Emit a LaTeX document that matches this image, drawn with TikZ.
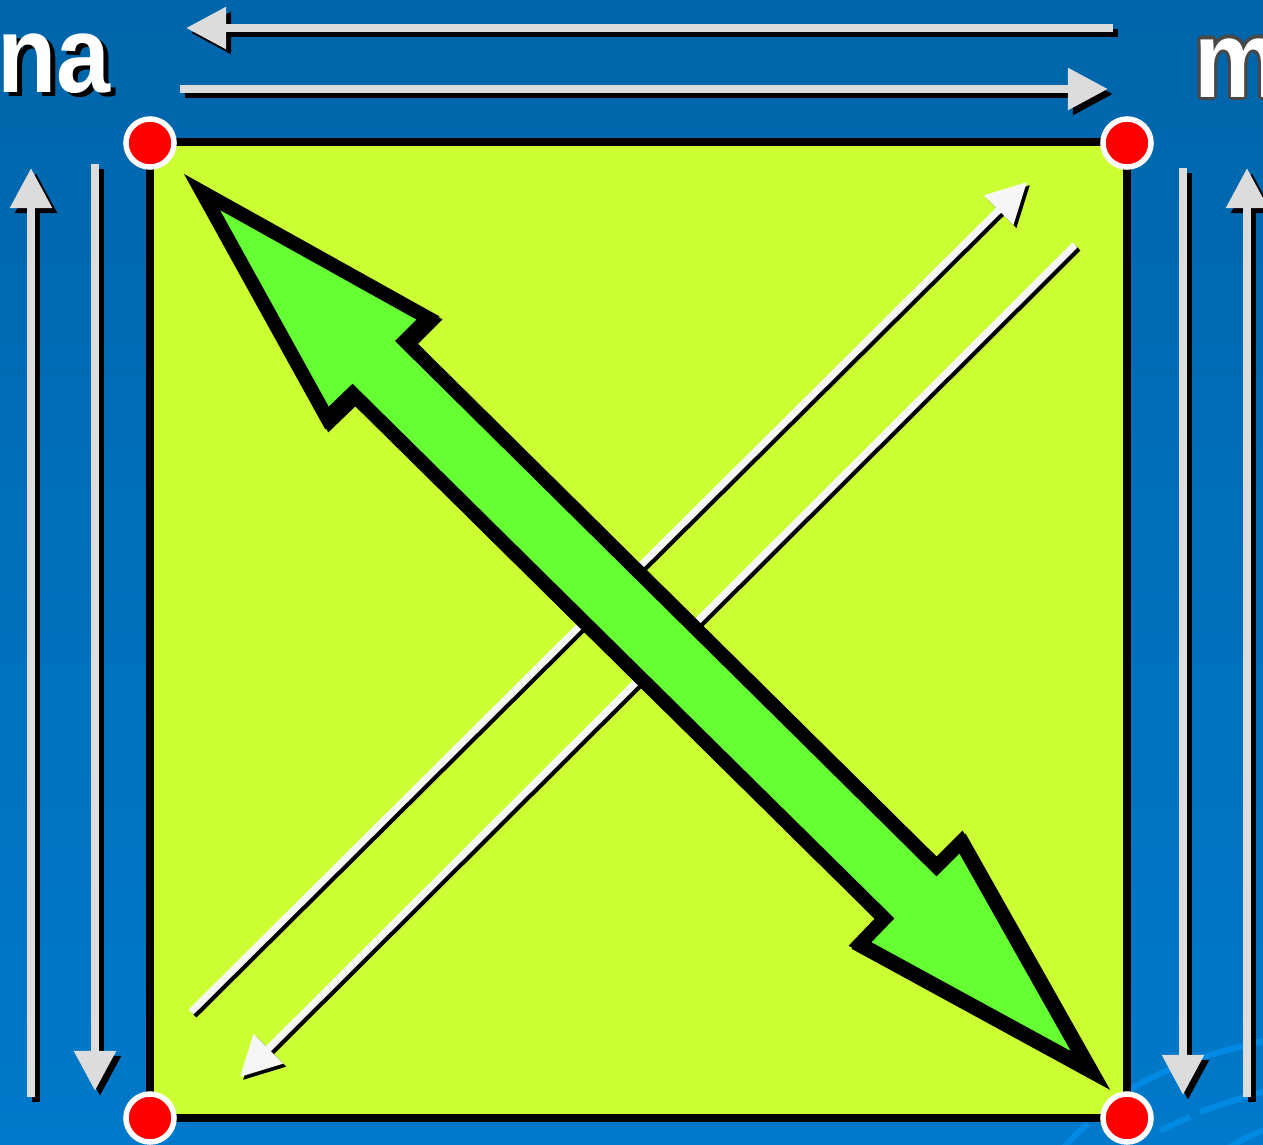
\documentclass[tikz,border=0pt]{standalone}
\usepackage{fontspec}
\setmainfont{Liberation Sans}
\usetikzlibrary{arrows.meta}
\definecolor{bgtop}{RGB}{0,101,170}
\definecolor{bgbot}{RGB}{0,121,202}
\definecolor{arcblue}{RGB}{0,138,228}
\definecolor{sqfill}{RGB}{204,255,51}
\definecolor{grfill}{RGB}{102,255,51}
\definecolor{garrow}{RGB}{220,220,220}
\definecolor{warrow}{RGB}{246,246,246}
\definecolor{mgray}{RGB}{72,72,72}
\definecolor{dotred}{RGB}{255,0,0}
\tikzset{
  grayline/.style={draw=garrow, line width=0.85mm, -{Triangle[length=4mm,width=4mm]}},
  grayshadow/.style={draw=black, line width=0.85mm, -{Triangle[length=4mm,width=4mm]}},
  whiteline/.style={draw=warrow, line width=0.7mm, -{Triangle[length=4mm,width=4mm]}},
  whiteshadow/.style={draw=black, line width=0.7mm, -{Triangle[length=4mm,width=4mm]}},
  bigtext/.style={font=\fontsize{31}{36}\selectfont\bfseries, inner sep=0, anchor=base west},
  cornerdot/.style={circle, fill=dotred, draw=white, line width=0.55mm, minimum size=4.8mm, inner sep=0},
  decoarc/.style={draw=arcblue, line width=0.6mm},
  bigarrow/.style={line width=1.4mm, line join=miter},
}
\newcommand\narrowtxt[1]{\scalebox{0.89}[1]{#1}}
\begin{document}
\begin{tikzpicture}[x=0.01cm, y=-0.01cm]
\useasboundingbox (0,0) rectangle (1263,1145);
% background
\shade[top color=bgtop, bottom color=bgbot] (0,0) rectangle (1263,1145);
% decorative arcs lower right
\draw[decoarc] (1122,1094) .. controls (1160,1070) and (1210,1052) .. (1270,1040);
\draw[decoarc] (1160,1131) .. controls (1170,1126) and (1180,1121) .. (1190,1117);
\draw[decoarc] (1200,1112) .. controls (1225,1103) and (1245,1096) .. (1270,1090);
\draw[decoarc] (1062,1150) .. controls (1070,1140) and (1078,1132) .. (1088,1124);
\draw[decoarc] (1225,1150) .. controls (1240,1140) and (1255,1133) .. (1270,1128);
% gray frame arrows
\coordinate (t1s) at (1113,28);  \coordinate (t1e) at (186,28);
\coordinate (t2s) at (180,89);   \coordinate (t2e) at (1108,89);
\coordinate (l1s) at (31,1097);  \coordinate (l1e) at (31,168);
\coordinate (l2s) at (95,164);   \coordinate (l2e) at (95,1091);
\coordinate (r1s) at (1183,168); \coordinate (r1e) at (1183,1095);
\coordinate (r2s) at (1247,1097);\coordinate (r2e) at (1247,168);
\foreach \s/\e in {t1s/t1e, t2s/t2e, l1s/l1e, l2s/l2e, r1s/r1e, r2s/r2e}{
  \draw[grayshadow] ([shift={(5,5)}]\s) -- ([shift={(5,5)}]\e);
  \draw[grayline] (\s) -- (\e);
}
% texts
\node[bigtext, text=black] (nashadow) at (2,96) {\narrowtxt{na}};
\node[bigtext, text=white] (natext) at (-3,92) {\narrowtxt{na}};
\coordinate (mpos) at (1194,97);
\foreach \a in {0,22.5,...,337.5}{
  \node[bigtext, text=mgray] (mo\a) at ([shift={(\a:3.2)}]mpos) {\narrowtxt{m}};
}
\node[bigtext, text=white] (mtext) at (mpos) {\narrowtxt{m}};
% square
\coordinate (sqa) at (150,142);
\coordinate (sqb) at (1127,1118);
\draw[fill=sqfill, line width=0.72mm] (sqa) rectangle (sqb);
% thin white diagonal arrows
\coordinate (wa1) at (191,1012); \coordinate (wa2) at (1027,182);
\coordinate (wb1) at (1075,245); \coordinate (wb2) at (240,1077);
\draw[whiteshadow] ([shift={(3,3)}]wa1) -- ([shift={(3,3)}]wa2);
\draw[whiteline] (wa1) -- (wa2);
\draw[whiteshadow] ([shift={(3,3)}]wb1) -- ([shift={(3,3)}]wb2);
\draw[whiteline] (wb1) -- (wb2);
% big green double arrow
\def\greenpath{(202,192) -- (428,318) -- (405,341) -- (936.5,866.5) -- (961,842) -- (1089,1069) -- (860,944) -- (884.5,918.5) -- (352.5,393.5) -- (327,418) -- cycle}
\begin{scope}[shift={(3,3)}]
  \path[bigarrow, draw=black, fill=black] \greenpath;
\end{scope}
\path[bigarrow, draw=black, fill=grfill] \greenpath;
% corner dots
\node[cornerdot] (dtl) at (150,143) {};
\node[cornerdot] (dtr) at (1127,143) {};
\node[cornerdot] (dbl) at (150,1118) {};
\node[cornerdot] (dbr) at (1127,1118) {};
\end{tikzpicture}
\end{document}
